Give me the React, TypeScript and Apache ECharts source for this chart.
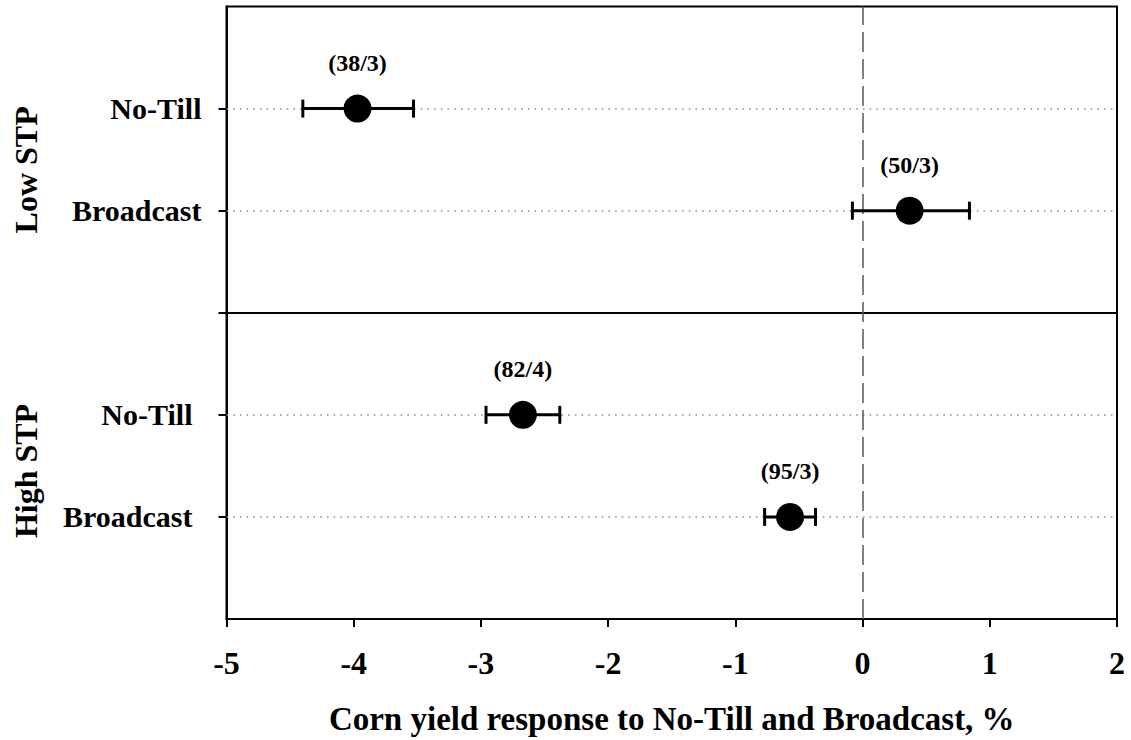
import React, { useEffect, useRef } from "react";
import * as echarts from "echarts";

const rowLabels = ["No-Till", "Broadcast", "No-Till", "Broadcast"];
const rowGroup = ["low", "low", "high", "high"];
const rowPos = [5, 4, 2, 1];
const means = [-3.97, 0.37, -2.67, -0.57];
const lower = [-4.4, -0.08, -2.96, -0.77];
const upper = [-3.53, 0.84, -2.38, -0.37];
const countLabels = ["(38/3)", "(50/3)", "(82/4)", "(95/3)"];
const groupNames = ["Low STP", "High STP"];
const groupCenters = [4.4, 1.45];
const dividerPos = [3];
const gridPos = [1, 2, 4, 5];
const xTicks = [-5, -4, -3, -2, -1, 0, 1, 2];
const xTitle = "Corn yield response to No-Till and Broadcast, %";

const FONT = "'Liberation Serif', 'Times New Roman', serif";

export default function App() {
  const ref = useRef<HTMLDivElement>(null);
  useEffect(() => {
    if (!ref.current) return;
    const chart = echarts.init(ref.current, null, { renderer: "svg" });
    const labelFor = (v: number) => {
      const i = rowPos.indexOf(v);
      if (i < 0) return "";
      return rowGroup[i] === "high" ? `{h|${rowLabels[i]}}` : `{l|${rowLabels[i]}}`;
    };
    const richBase = { fontSize: 30, fontWeight: "bold", fontFamily: FONT, color: "#000" };
    const option: any = {
      animation: false,
      backgroundColor: "#fff",
      grid: {
        left: 226.5,
        right: 14,
        top: 6.5,
        bottom: 121,
        containLabel: false,
        outerBoundsMode: "none",
        show: true,
        borderColor: "#000",
        borderWidth: 2,
        backgroundColor: "transparent",
      },
      xAxis: {
        type: "value",
        min: xTicks[0],
        max: xTicks[xTicks.length - 1],
        interval: 1,
        axisLine: { show: true, onZero: false, lineStyle: { color: "#000", width: 2 } },
        axisTick: { show: true, length: 8, lineStyle: { color: "#000", width: 2 } },
        axisLabel: { fontSize: 32, fontWeight: "bold", fontFamily: FONT, color: "#000", margin: 28 },
        splitLine: { show: false },
        name: xTitle,
        nameLocation: "middle",
        nameGap: 83,
        nameTextStyle: { fontSize: 33, fontWeight: "bold", fontFamily: FONT, color: "#000" },
      },
      yAxis: [
        {
          type: "value",
          min: 0,
          max: 6,
          interval: 1,
          axisLine: { show: true, onZero: false, lineStyle: { color: "#000", width: 2 } },
          axisTick: { show: true, length: 8, customValues: [1, 2, 3, 4, 5], lineStyle: { color: "#000", width: 2 } },
          axisLabel: {
            show: true,
            customValues: rowPos,
            margin: 25,
            formatter: (v: number) => labelFor(v),
            rich: {
              l: { ...richBase },
              h: { ...richBase, padding: [0, 9, 0, 0] },
            },
            ...richBase,
          },
          splitLine: { show: false },
        },
        {
          type: "value",
          min: 0,
          max: 6,
          position: "left",
          axisLine: { show: false },
          axisTick: { show: true, length: 113.5, customValues: dividerPos, lineStyle: { color: "#000", width: 2 } },
          axisLabel: { show: false },
          splitLine: { show: false },
        },
      ],
      series: [
        {
          type: "line",
          data: [],
          silent: true,
          z: 1,
          markLine: {
            silent: true,
            z: 1,
            symbol: "none",
            label: { show: false },
            data: [
              ...gridPos.map((v) => ({ yAxis: v, lineStyle: { color: "#888", width: 1.5, type: [1.5, 5.2] } })),
              ...dividerPos.map((v) => ({ yAxis: v, lineStyle: { color: "#000", width: 2, type: "solid" } })),
              { xAxis: 0, lineStyle: { color: "#555", width: 1.5, type: [20, 7] } },
            ],
          },
        },
        {
          type: "custom",
          z: 3,
          silent: true,
          data: rowPos.map((p, i) => [p, lower[i], upper[i]]),
          renderItem: (params: any, api: any) => {
            const y = api.value(0);
            const lo = api.coord([api.value(1), y]);
            const hi = api.coord([api.value(2), y]);
            const cap = 9;
            const style = { stroke: "#000", lineWidth: 3 };
            return {
              type: "group",
              children: [
                { type: "line", shape: { x1: lo[0], y1: lo[1], x2: hi[0], y2: hi[1] }, style },
                { type: "line", shape: { x1: lo[0], y1: lo[1] - cap, x2: lo[0], y2: lo[1] + cap }, style },
                { type: "line", shape: { x1: hi[0], y1: hi[1] - cap, x2: hi[0], y2: hi[1] + cap }, style },
              ],
            };
          },
        },
        {
          type: "scatter",
          z: 4,
          symbol: "circle",
          symbolSize: 28,
          itemStyle: { color: "#000", opacity: 1 },
          data: rowPos.map((p, i) => ({ value: [means[i], p], name: countLabels[i] })),
          label: {
            show: true,
            position: "top",
            distance: 20,
            formatter: (p: any) => p.name,
            fontSize: 24,
            fontWeight: "bold",
            fontFamily: FONT,
            color: "#000",
          },
        },
      ],
    };
    chart.setOption(option);
    const gx = 26;
    chart.setOption({
      graphic: groupNames.map((name, i) => {
        const py = chart.convertToPixel({ yAxisIndex: 0 }, groupCenters[i]) as number;
        return {
          type: "text",
          x: gx,
          y: py,
          rotation: Math.PI / 2,
          style: {
            text: name,
            fontSize: 32,
            fontWeight: "bold",
            fontFamily: FONT,
            fill: "#000",
            align: "center",
            verticalAlign: "middle",
          },
        };
      }),
    });
    return () => chart.dispose();
  }, []);
  return <div ref={ref} style={{ position: "absolute", left: 0, top: 0, width: 1131, height: 740 }} />;
}
